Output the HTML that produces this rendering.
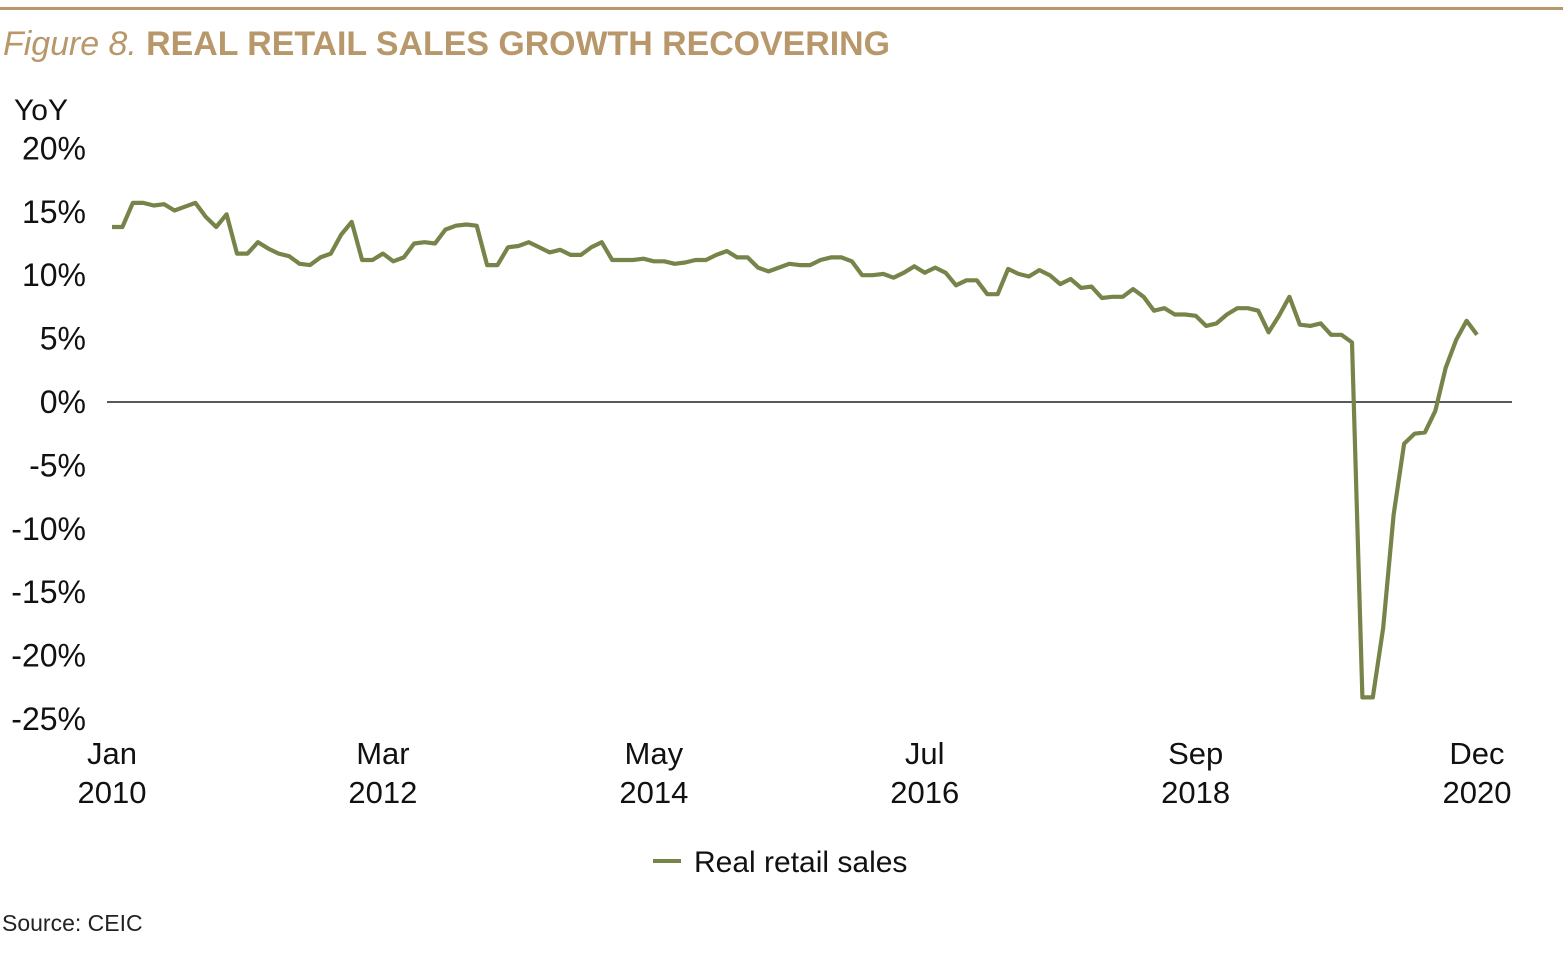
<!DOCTYPE html>
<html><head><meta charset="utf-8"><style>
html,body{margin:0;padding:0;background:#fff;}
svg{display:block;font-family:"Liberation Sans",sans-serif;}
</style></head><body>
<svg id="chart" width="1563" height="958" viewBox="0 0 1563 958" xmlns="http://www.w3.org/2000/svg">
<rect x="0" y="7" width="1563" height="3" fill="#b8976a"/>
<text x="3" y="55" font-size="34" fill="#b8976a" textLength="887" lengthAdjust="spacingAndGlyphs"><tspan font-style="italic">Figure 8.</tspan><tspan font-weight="bold"> REAL RETAIL SALES GROWTH RECOVERING</tspan></text>
<text x="14" y="120" font-size="30" fill="#111">YoY</text>
<g id="yticks"></g>
<g id="xticks"></g>
<line x1="107" x2="1512" y1="402" y2="402" stroke="#222" stroke-width="1.5"/>
<polyline id="series" fill="none" stroke="#76844a" stroke-width="4.2" stroke-linejoin="round"/>
<line x1="653" x2="681" y1="861" y2="861" stroke="#76844a" stroke-width="4"/>
<text x="694" y="872" font-size="30" fill="#111">Real retail sales</text>
<text x="2" y="931" font-size="23" fill="#222">Source: CEIC</text>
</svg>
<script>
const values = [
13.8,13.8,15.7,15.7,15.5,15.6,15.1,15.4,15.7,14.6,13.8,14.8,
11.7,11.7,12.6,12.1,11.7,11.5,10.9,10.8,11.4,11.7,13.2,14.2,
11.2,11.2,11.7,11.1,11.4,12.5,12.6,12.5,13.6,13.9,14.0,13.9,
10.8,10.8,12.2,12.3,12.6,12.2,11.8,12.0,11.6,11.6,12.2,12.6,
11.2,11.2,11.2,11.3,11.1,11.1,10.9,11.0,11.2,11.2,11.6,11.9,
11.4,11.4,10.6,10.3,10.6,10.9,10.8,10.8,11.2,11.4,11.4,11.1,
10.0,10.0,10.1,9.8,10.2,10.7,10.2,10.6,10.2,9.2,9.6,9.6,
8.5,8.5,10.5,10.1,9.9,10.4,10.0,9.3,9.7,9.0,9.1,8.2,
8.3,8.3,8.9,8.3,7.2,7.4,6.9,6.9,6.8,6.0,6.2,6.9,
7.4,7.4,7.2,5.5,6.8,8.3,6.1,6.0,6.2,5.3,5.3,4.7,
-23.3,-23.3,-17.8,-8.9,-3.3,-2.5,-2.4,-0.7,2.7,4.9,6.4,5.3
];
const yTicks = [20,15,10,5,0,-5,-10,-15,-20,-25];
const xLabels = [["Jan","2010"],["Mar","2012"],["May","2014"],["Jul","2016"],["Sep","2018"],["Dec","2020"]];
const xLabelIdx = [0,26,52,78,104,131];
const NS="http://www.w3.org/2000/svg";
const x0=112,x1=1477,yZero=402,pxPer=12.68;
function xs(i){return x0+(x1-x0)*i/(values.length-1);}
function ys(v){return yZero-v*pxPer;}
const yg=document.getElementById('yticks');
yTicks.forEach(t=>{
  const el=document.createElementNS(NS,'text');
  el.setAttribute('x',86);el.setAttribute('y',ys(t)+11);
  el.setAttribute('text-anchor','end');el.setAttribute('font-size','32');el.setAttribute('fill','#111');
  el.textContent=t+'%';
  
  
  yg.appendChild(el);
});
const xg=document.getElementById('xticks');
xLabels.forEach((l,k)=>{
  const el=document.createElementNS(NS,'text');
  el.setAttribute('text-anchor','middle');el.setAttribute('font-size','31');el.setAttribute('fill','#111');
  const cx=xs(xLabelIdx[k]);
  l.forEach((s,j)=>{const t=document.createElementNS(NS,'tspan');t.setAttribute('x',cx);t.setAttribute('y',764+j*39);t.textContent=s;el.appendChild(t);});
  
  
  xg.appendChild(el);
});
document.getElementById('series').setAttribute('points',values.map((v,i)=>xs(i).toFixed(1)+','+ys(v).toFixed(1)).join(' '));
</script>
</body></html>
